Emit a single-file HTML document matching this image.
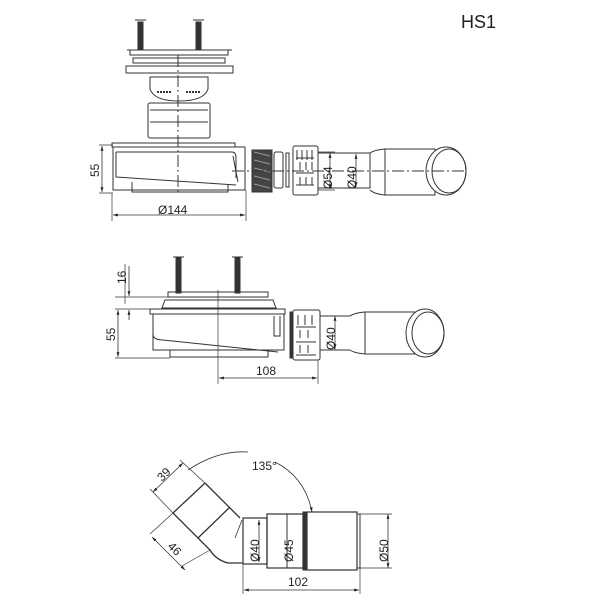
<!DOCTYPE html>
<html><head><style>body{margin:0;background:#fff}svg{display:block}text{font-family:"Liberation Sans",sans-serif;fill:#222}</style></head>
<body>
<svg width="600" height="600" viewBox="0 0 600 600" xmlns="http://www.w3.org/2000/svg">
<defs>
<marker id="a" viewBox="0 0 10 10" refX="10" refY="5" markerWidth="6" markerHeight="6" orient="auto-start-reverse"><path d="M0,2L10,5L0,8z" fill="#222"/></marker>
</defs>
<g stroke="#333" stroke-width="1" fill="none">
<!-- TOP VIEW -->
<g fill="#333"><rect x="138" y="22" width="5" height="28"/><rect x="196" y="22" width="5" height="28"/></g>
<path d="M135 20h11M193 20h11"/>
<rect x="130" y="50" width="98" height="5"/>
<line x1="127" y1="50" x2="232" y2="50"/>
<rect x="133" y="58" width="92" height="5"/>
<rect x="126" y="66" width="107" height="7"/>
<path d="M150 77h58v12q-4 12 -29 12q-25 0 -29 -12z"/>
<path d="M157 92h14M186 92h14" stroke-dasharray="2 1" stroke-width="2"/>
<rect x="148" y="103" width="62" height="35" rx="2"/>
<path d="M150 110h58M150 122h58"/>
<rect x="112" y="143" width="123" height="4"/>
<path d="M113 147h132v43h-132z"/>
<path d="M116 152h116q4 0 4 6v20M116 152v25l120 8" />
<path d="M132 182v10h96v-8"/>
<path d="M233 156l5 26"/>
<rect x="252" y="150" width="20" height="42" fill="#444"/>
<path d="M254 152l16 4M254 160l16 4M254 168l16 4M254 176l16 4M254 184l16 4" stroke="#999"/>
<rect x="274" y="152" width="9" height="36" rx="2"/>
<rect x="286" y="153" width="3" height="34"/>
<rect x="293" y="146" width="25" height="49" rx="2"/>
<path d="M297 150v10M302 150v10M307 150v10M312 150v10M296 158h18M296 173h18M296 185h18M300 162v8M306 162v8M312 162v8M300 177v8M306 177v8M312 177v8"/>
<path d="M318 153h52v35h-52M370 153q4 -3 15 -4v46q-11 -1 -15 -5M385 149h50v46h-50"/>
<ellipse cx="446" cy="171" rx="20" ry="24" fill="#fff"/>
<ellipse cx="449" cy="171" rx="17" ry="22"/>
<line x1="178" y1="55" x2="178" y2="195" stroke-dasharray="12 3 2 3"/>
<line x1="232" y1="171" x2="466" y2="171" stroke-dasharray="12 3 2 3"/>
<!-- dims top -->
<path d="M99 145h14M99 193h14M112 193v28M246 190v31" stroke-width="0.7"/>
<line x1="102" y1="146" x2="102" y2="192" marker-start="url(#a)" marker-end="url(#a)" stroke-width="0.8"/>
<line x1="113" y1="215" x2="245" y2="215" marker-start="url(#a)" marker-end="url(#a)" stroke-width="0.8"/>
<path d="M318 152h17M318 190h17M340 153h20M340 188h20" stroke-width="0.7"/>
<line x1="330" y1="153" x2="330" y2="189" marker-start="url(#a)" marker-end="url(#a)" stroke-width="0.8"/>
<line x1="356" y1="154" x2="356" y2="187" marker-start="url(#a)" marker-end="url(#a)" stroke-width="0.8"/>

<!-- MIDDLE VIEW -->
<g fill="#333"><rect x="176" y="258" width="5" height="35"/><rect x="235" y="258" width="5" height="35"/></g>
<path d="M173 257h11M232 257h11"/>
<rect x="168" y="292" width="100" height="5"/>
<path d="M165 300h108l3 8h-114z"/>
<rect x="150" y="309" width="135" height="5"/>
<path d="M153 314h131v36h-131z"/>
<path d="M153 314v20q0 6 10 6l115 12M274 316v20h6v-20"/>
<path d="M170 350v7h98v-6"/>
<rect x="293" y="310" width="27" height="50" rx="2"/>
<path d="M298 315v10M305 315v10M312 315v10M296 327h20M296 342h20M296 355h20M300 330v8M308 330v8M300 345v8M308 345v8"/>
<rect x="290" y="312" width="3" height="46" fill="#333"/>
<path d="M320 316h30M320 350h30M350 316q4 -3 15 -4v42q-11 -1 -15 -4M365 312h50v42h-50"/>
<ellipse cx="425" cy="333" rx="19" ry="24" fill="#fff"/>
<ellipse cx="428" cy="333" rx="16" ry="21"/>
<line x1="218" y1="290" x2="218" y2="384" stroke-width="0.7"/>
<path d="M125 264v40M115 297h53M115 309h38M115 358h55M318 360v24" stroke-width="0.7"/>
<line x1="129" y1="266" x2="129" y2="296" marker-end="url(#a)" stroke-width="0.8"/>
<line x1="129" y1="320" x2="129" y2="310" marker-end="url(#a)" stroke-width="0.8"/>
<line x1="118" y1="310" x2="118" y2="357" marker-start="url(#a)" marker-end="url(#a)" stroke-width="0.8"/>
<line x1="219" y1="378" x2="317" y2="378" marker-start="url(#a)" marker-end="url(#a)" stroke-width="0.8"/>
<line x1="335" y1="316" x2="335" y2="349" marker-start="url(#a)" marker-end="url(#a)" stroke-width="0.8"/>

<!-- BOTTOM VIEW -->
<path d="M205 483l35 35M173 513l37 37q6 10 18 13h15M173 513l32 -30M198 538l32 -31" stroke-width="1.3"/>
<rect x="243" y="518" width="24" height="46" stroke-width="1.2"/>
<rect x="267" y="514" width="36" height="54" stroke-width="1.2"/>
<line x1="287" y1="514" x2="287" y2="568"/>
<rect x="303" y="512" width="4" height="58" fill="#333"/>
<rect x="307" y="512" width="50" height="58" stroke-width="1.2"/>
<rect x="357" y="514" width="3" height="54"/>
<line x1="259" y1="520" x2="259" y2="562" marker-start="url(#a)" marker-end="url(#a)" stroke-width="0.8"/>
<line x1="388" y1="514" x2="388" y2="568" marker-start="url(#a)" marker-end="url(#a)" stroke-width="0.8"/>
<path d="M360 514h32M360 568h32M243 564v30M360 568v26" stroke-width="0.7"/>
<line x1="244" y1="590" x2="359" y2="590" marker-start="url(#a)" marker-end="url(#a)" stroke-width="0.8"/>
<line x1="153" y1="492" x2="183" y2="463" marker-start="url(#a)" marker-end="url(#a)" stroke-width="0.8"/>
<path d="M150 489l23 24M180 460l25 23M150 534l23 -21M182 566l28 -16" stroke-width="0.7"/>
<line x1="152" y1="537" x2="185" y2="570" marker-start="url(#a)" marker-end="url(#a)" stroke-width="0.8"/>
<path d="M188 470q30 -20 60 -18M275 462q30 15 37 50" stroke-width="0.8" marker-end="url(#a)"/>
<line x1="242" y1="520" x2="235" y2="538" stroke-width="0.8"/>
</g>
<text x="461" y="28" font-size="18">HS1</text>
<text x="158" y="214" font-size="12">Ø144</text>
<text transform="translate(99,177) rotate(-90)" font-size="12">55</text>
<text transform="translate(332,189) rotate(-90)" font-size="12">Ø54</text>
<text transform="translate(356,189) rotate(-90)" font-size="12">Ø40</text>
<text transform="translate(126,284) rotate(-90)" font-size="12">16</text>
<text transform="translate(115,341) rotate(-90)" font-size="12">55</text>
<text transform="translate(335,350) rotate(-90)" font-size="12">Ø40</text>
<text x="256" y="375" font-size="12">108</text>
<text transform="translate(259,562) rotate(-90)" font-size="12">Ø40</text>
<text transform="translate(293,562) rotate(-90)" font-size="12">Ø45</text>
<text transform="translate(388,562) rotate(-90)" font-size="12">Ø50</text>
<text x="288" y="586" font-size="12">102</text>
<text x="252" y="470" font-size="12">135°</text>
<text transform="translate(162,482) rotate(-45)" font-size="12">39</text>
<text transform="translate(167,547) rotate(45)" font-size="12">46</text>
</svg>
</body></html>
